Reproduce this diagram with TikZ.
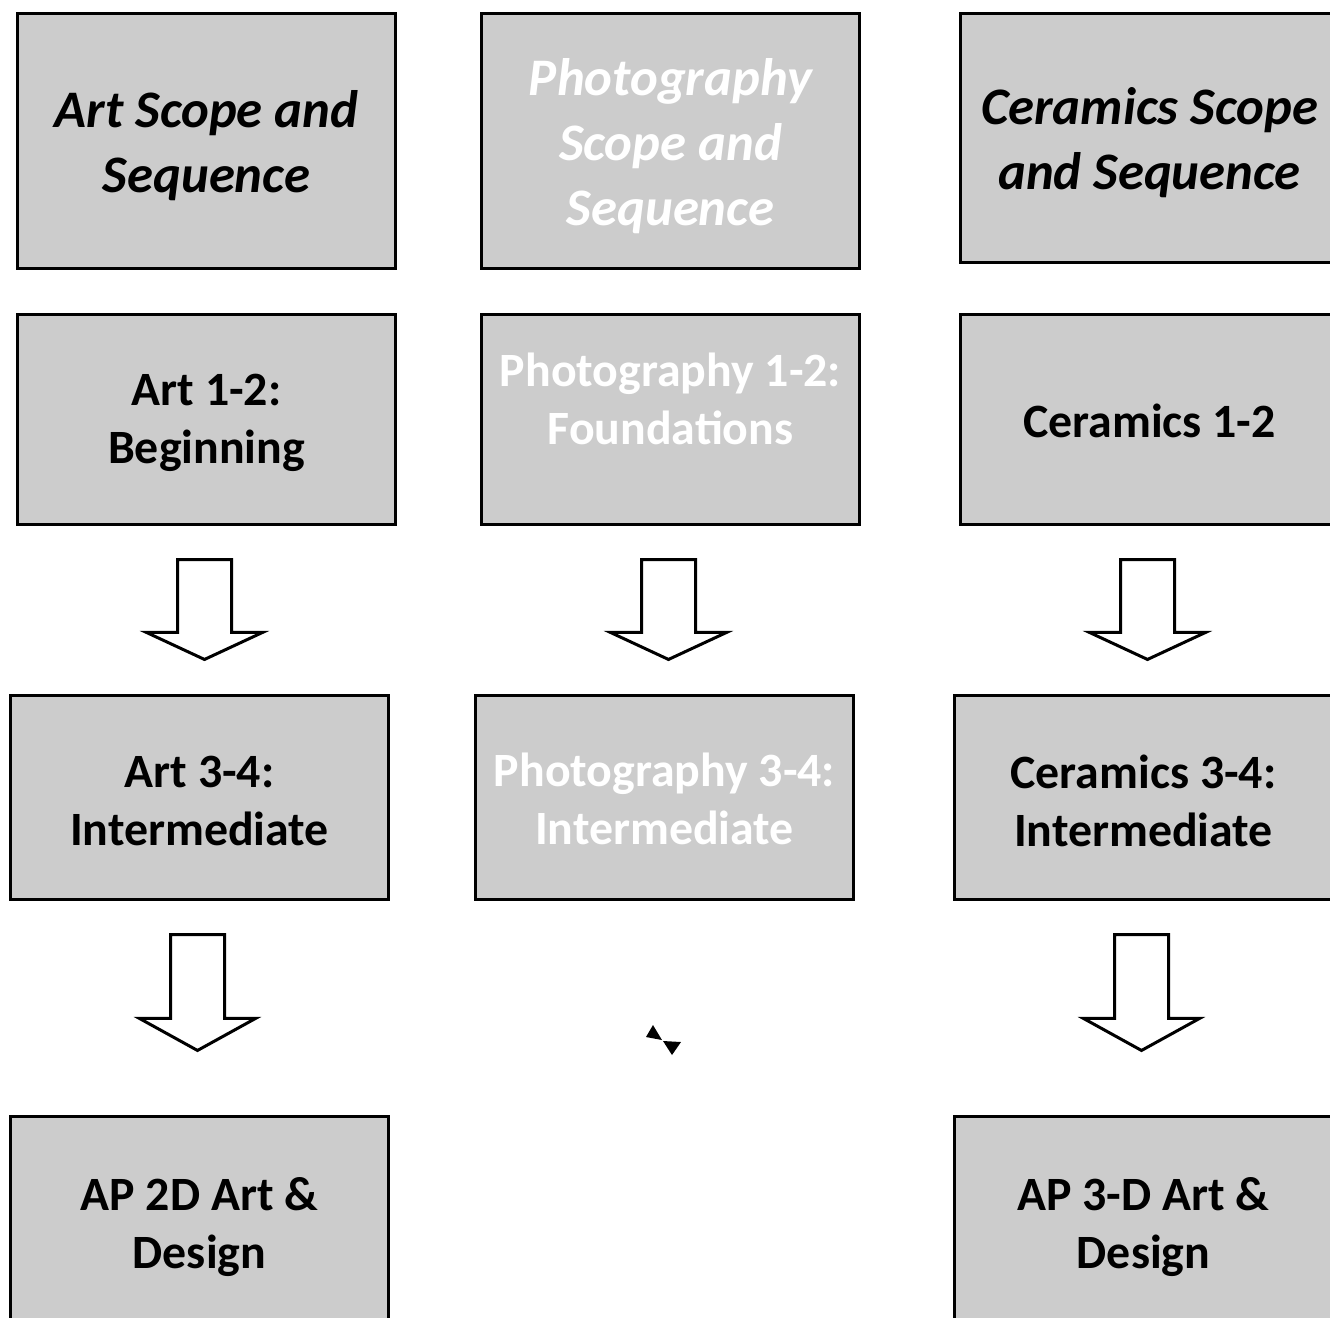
\documentclass[tikz,border=0pt]{standalone}
\usepackage{fontspec}
\setmainfont{Carlito}
\usetikzlibrary{calc}
\definecolor{boxgray}{HTML}{CCCCCC}

% block arrow from the bottom of #1 towards the top of #2
% #3: gap below #1, #4: gap above #2, #5: head height
\newcommand\blockarrow[5]{%
  \coordinate (t) at ($(#1.south)+(-2,#3)$);
  \coordinate (b) at ($(t |- #2.north)+(0,-#4)$);
  \draw[blockarr] ($(t)+(-27,0)$) -- ($(t)+(27,0)$) -- ($(b)+(27,-#5)$)
    -- ($(b)+(58,-#5)$) -- (b) -- ($(b)+(-58,-#5)$) -- ($(b)+(-27,-#5)$) -- cycle;
}

\begin{document}
\begin{tikzpicture}[x=0.01cm,y=-0.01cm,
  box/.style={draw=black, line width=0.03cm, fill=boxgray, minimum width=3.77cm,
    inner sep=0pt},
  txt/.style={align=center, inner sep=0pt, yshift=-0.05cm,
    font=\bfseries\fontsize{13.6}{16.5}\selectfont},
  ttl/.style={txt, font=\bfseries\itshape\fontsize{15}{18.5}\selectfont},
  pale/.style={text=white},
  blockarr/.style={draw=black, line width=0.03cm, fill=white, line join=miter}]
\useasboundingbox (0,0) rectangle (1330,1317);
\clip (0,0) rectangle (1330,1317);

% column headings
\node[box, minimum height=2.54cm, label={[ttl]center:Art Scope and\\Sequence}] (art) at (206.5,141) {};
\node[box, minimum height=2.54cm, label={[ttl,pale]center:Photography\\Scope and\\Sequence}] (pho) at (670.5,141) {};
\node[box, minimum height=2.48cm, label={[ttl]center:Ceramics Scope\\and Sequence}] (cer) at (1149.5,138) {};

% first-level courses
\node[box, minimum height=2.09cm, label={[txt,yshift=0.02cm]center:Art 1-2:\\Beginning}] (a12) at (206.5,419.5) {};
\node[box, minimum height=2.09cm, label={[txt,pale,yshift=0.26cm]center:Photography 1-2:\\Foundations}] (p12) at (670.5,419.5) {};
\node[box, minimum height=2.09cm, label={[txt,yshift=0.04cm]center:Ceramics 1-2}] (c12) at (1149.5,419.5) {};

% intermediate courses
\node[box, minimum height=2.03cm, label={[txt,yshift=0.02cm]center:Art 3-4:\\Intermediate}] (a34) at (199.5,797.5) {};
\node[box, minimum height=2.03cm, label={[txt,pale,yshift=0.04cm]center:Photography 3-4:\\Intermediate}] (p34) at (664.5,797.5) {};
\node[box, minimum height=2.03cm, label={[txt,yshift=0.02cm]center:Ceramics 3-4:\\Intermediate}] (c34) at (1143.5,797.5) {};

% AP courses
\node[box, minimum height=2.10cm, label={[txt]center:AP 2D Art \&\\Design}] (ap2) at (199.5,1222) {};
\node[box, minimum height=2.10cm, label={[txt]center:AP 3-D Art \&\\Design}] (ap3) at (1143.5,1222) {};

% progression arrows
\blockarrow{a12}{a34}{34}{35}{27}
\blockarrow{p12}{p34}{34}{35}{27}
\blockarrow{c12}{c34}{34}{35}{27}
\blockarrow{a34}{ap2}{34}{65}{32}
\blockarrow{c34}{ap3}{34}{65}{32}

% small bow-tie mark
\fill (653,1025) -- (646,1037) -- (662,1040) -- cycle;
\fill (663,1041) -- (681,1042) -- (672,1055) -- cycle;
\end{tikzpicture}
\end{document}
